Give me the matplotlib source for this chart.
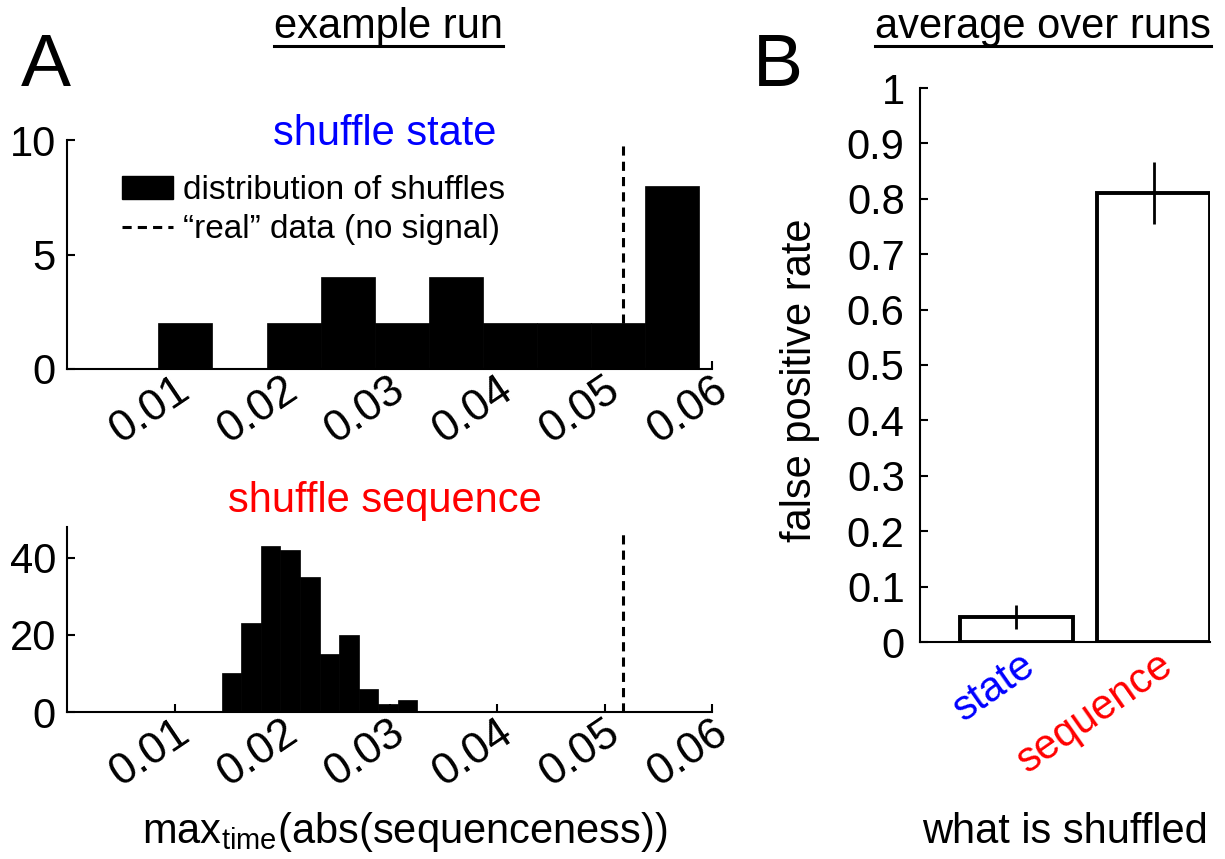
import numpy as np
import matplotlib
matplotlib.use("Agg")
import matplotlib.pyplot as plt
from matplotlib.patches import Patch
from matplotlib.lines import Line2D
from matplotlib.transforms import ScaledTranslation

plt.rcParams['font.family'] = ['Liberation Sans', 'DejaVu Sans']
plt.rcParams['mathtext.fontset'] = 'custom'
plt.rcParams['mathtext.rm'] = 'Liberation Sans'

# ---- data ----
# A, top: shuffle state (10 bins)
state_lo, state_hi = 0.0085, 0.0588
state_counts = [2, 0, 2, 4, 2, 4, 2, 2, 2, 8]
# A, bottom: shuffle sequence (10 bins)
seq_lo, seq_hi = 0.0144, 0.0326
seq_counts = [10, 23, 43, 42, 35, 15, 20, 6, 2, 3]
real_value = 0.0517
x_ticks = [0.01, 0.02, 0.03, 0.04, 0.05, 0.06]
x_ticklabels = ['0.01', '0.02', '0.03', '0.04', '0.05', '0.06']

# B: false positive rate
categories = ['state', 'sequence']
cat_colors = ['blue', 'red']
fp_rate = [0.045, 0.811]
fp_err = [0.021, 0.056]
b_yticks = np.round(np.arange(0, 1.01, 0.1), 1)
b_yticklabels = ['0'] + ['%.1f' % v for v in b_yticks[1:-1]] + ['1']

W, H = 1225, 859
fig = plt.figure(figsize=(W / 100, H / 100), dpi=100)


def box(l, t, r, b):
    return [l / W, 1 - b / H, (r - l) / W, (b - t) / H]


def px(x, y):
    return x / W, 1 - y / H


FS = 30


def style(ax):
    for s in ['top', 'right']:
        ax.spines[s].set_visible(False)
    for s in ['left', 'bottom']:
        ax.spines[s].set_linewidth(1.5)
    ax.tick_params(direction='in', length=6, width=1.5, labelsize=FS)


def shift_labels(ax, dx, dy):
    off = ScaledTranslation(dx / 100, dy / 100, fig.dpi_scale_trans)
    for lab in ax.get_xticklabels():
        lab.set_transform(lab.get_transform() + off)


def hist_xaxis(ax):
    ax.set_xlim(0, 0.06)
    ax.set_xticks(x_ticks)
    ax.set_xticklabels(x_ticklabels, rotation=34, ha='right', va='top',
                       rotation_mode='anchor', fontsize=32)
    ax.tick_params(axis='x', pad=0)
    ax.tick_params(axis='y', pad=8)
    shift_labels(ax, 0, 0)


# ---- A top ----
ax1 = fig.add_axes(box(67, 140, 712, 369))
style(ax1)
edges = np.linspace(state_lo, state_hi, len(state_counts) + 1)
ax1.axvline(real_value, color='k', ls=(0, (3, 2)), lw=2.2, zorder=1)
ax1.bar(edges[:-1], state_counts, width=np.diff(edges), align='edge',
        color='k', edgecolor='k', lw=0.5, zorder=2)
ax1.set_ylim(0, 10)
ax1.set_yticks([0, 5, 10])
hist_xaxis(ax1)
ax1.legend(handles=[Patch(facecolor='k', edgecolor='k', label='distribution of shuffles'),
                    Line2D([], [], color='k', ls=(0, (3, 2)), lw=2.2,
                           label='\u201creal\u201d data (no signal)')],
           loc='upper left', bbox_to_anchor=(0.064, 0.905), frameon=False,
           fontsize=24, handlelength=1.55, handletextpad=0.3,
           labelspacing=0.25, borderaxespad=0)
fig.text(*px(385, 145), 'shuffle state', color='blue', fontsize=FS,
         ha='center', va='baseline')

# ---- A bottom ----
ax2 = fig.add_axes(box(67, 527, 712, 712))
style(ax2)
edges2 = np.linspace(seq_lo, seq_hi, len(seq_counts) + 1)
ax2.bar(edges2[:-1], seq_counts, width=np.diff(edges2), align='edge',
        color='k', edgecolor='k', lw=0.5, zorder=2)
ax2.plot([real_value, real_value], [0, 47], color='k', ls=(0, (3, 2)), lw=2.2,
         zorder=1)
ax2.set_ylim(0, 48)
ax2.set_yticks([0, 20, 40])
hist_xaxis(ax2)
fig.text(*px(385, 512), 'shuffle sequence', color='red', fontsize=FS,
         ha='center', va='baseline')
fig.text(*px(405, 843), r'max$_{\mathrm{time}}$(abs(sequenceness))',
         fontsize=FS, ha='center', va='baseline')

# ---- B ----
ax3 = fig.add_axes(box(920, 88, 1210, 642))
style(ax3)
xpos = np.arange(1, len(categories) + 1)
ax3.bar(xpos, fp_rate, width=0.82, color='white', edgecolor='k', lw=2.8,
        zorder=2)
ax3.errorbar(xpos, fp_rate, yerr=fp_err, fmt='none', ecolor='k', elinewidth=2,
             capsize=0, zorder=3)
ax3.set_xlim(0.3, 2.41)
ax3.set_ylim(0, 1)
ax3.set_yticks(b_yticks)
ax3.set_yticklabels(b_yticklabels)
ax3.set_xticks(xpos)
ax3.set_xticklabels(categories, rotation=35, ha='right', va='top',
                    rotation_mode='anchor')
ax3.tick_params(axis='x', length=0, pad=2)
ax3.tick_params(axis='y', pad=11)
for lab, c in zip(ax3.get_xticklabels(), cat_colors):
    lab.set_color(c)
shift_labels(ax3, 4, 0)
fig.text(*px(800, 380), 'false positive rate', fontsize=FS, rotation=90,
         ha='center', va='center')
fig.text(*px(1065, 843), 'what is shuffled', fontsize=FS, ha='center',
         va='baseline')

# ---- panel letters and underlined titles ----
fig.text(*px(46, 86), 'A', fontsize=54, ha='center', va='baseline')
fig.text(*px(778, 86), 'B', fontsize=54, ha='center', va='baseline')
titles = [fig.text(*px(388, 38), 'example run', fontsize=FS, ha='center',
                   va='baseline'),
          fig.text(*px(1043, 38), 'average over runs', fontsize=FS,
                   ha='center', va='baseline')]
fig.canvas.draw()
r = fig.canvas.get_renderer()
for t in titles:
    bb = t.get_window_extent(r)
    y = (H - 46) / H
    fig.add_artist(Line2D([bb.x0 / W, bb.x1 / W], [y, y], color='k', lw=2.2,
                          transform=fig.transFigure))

fig.savefig('out.png', dpi=100)
